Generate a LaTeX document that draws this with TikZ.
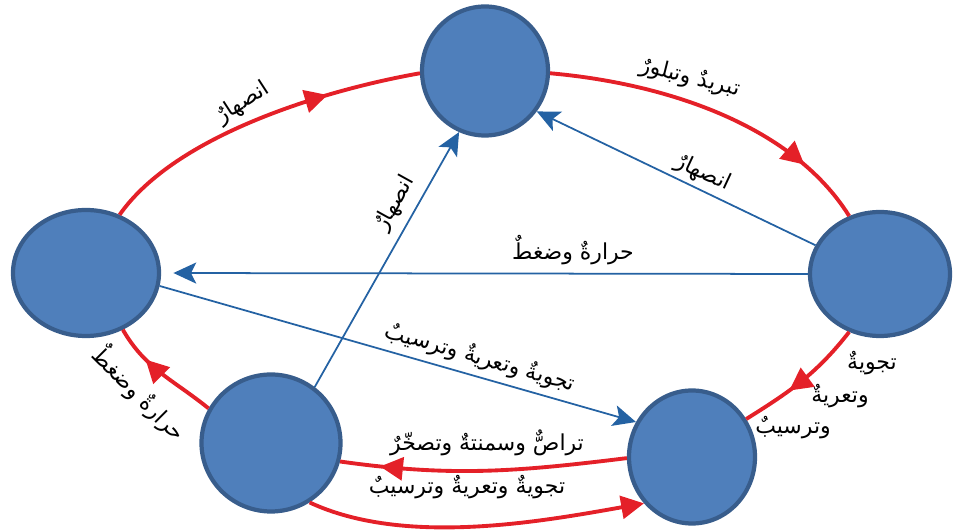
\documentclass[tikz,border=0pt]{standalone}
\usepackage{fontspec}
\usepackage{tikz}
\usetikzlibrary{arrows.meta,decorations.markings,shapes.geometric}
\newfontfamily\arabicfont[Script=Arabic]{DejaVu Sans}
\TeXXeTstate=1
\definecolor{rockblue}{RGB}{79,127,187}
\definecolor{rockedge}{RGB}{56,93,140}
\definecolor{cyclered}{RGB}{228,32,40}
\definecolor{pathblue}{RGB}{36,98,163}

\tikzset{
  rock/.style={ellipse, draw=rockedge, line width=2.4pt, fill=rockblue, inner sep=0pt},
  redarc/.style={draw=cyclered, line width=2.2pt},
  midtip/.style={postaction={decorate}, decoration={markings, mark=at position #1 with {\arrow{Triangle[length=13pt,width=13pt]}}}},
  bluearrow/.style={draw=pathblue, line width=1pt, -{Stealth[length=13pt,width=12pt,inset=3pt]}},
  lbl/.style={font=\fontsize{12.5}{14}\arabicfont, inner sep=1pt}
}

\begin{document}
\begin{tikzpicture}

\useasboundingbox (0cm,0cm) rectangle (19.1cm,10.6cm);

\node [rock, minimum width=2.52cm, minimum height=2.58cm] (magma) at (9.70cm,9.18cm) {};
\node [rock, minimum width=2.92cm, minimum height=2.52cm] (metamorphic) at (1.72cm,5.14cm) {};
\node [rock, minimum width=2.80cm, minimum height=2.48cm] (igneous) at (17.60cm,5.12cm) {};
\node [rock, minimum width=2.78cm, minimum height=2.74cm] (sedrock) at (5.42cm,1.74cm) {};
\node [rock, minimum width=2.52cm, minimum height=2.66cm] (sediment) at (13.84cm,1.46cm) {};


\draw [redarc, midtip=0.72] (metamorphic.60) to[out=55,in=190,looseness=0.75] (magma.182);
\draw [redarc, midtip=0.8] (magma.-2) to[out=-5,in=122,looseness=0.85] (igneous.118);
\draw [redarc, midtip=0.62] (igneous.242) to[out=232,in=32] (sediment.35);
\draw [redarc, midtip=0.86] (sediment.181) to[out=187,in=-8] (sedrock.-15);
\draw [redarc, -{Triangle[length=13pt,width=13pt]}] (sedrock.-57) to[out=-25,in=190,looseness=0.8] (sediment.224);
\draw [redarc, midtip=0.68] (sedrock.151) to[out=141,in=-60] (metamorphic.-57);


\draw [bluearrow] (igneous.156) -- (magma.-38);
\draw [bluearrow, shorten >=7pt] (igneous.west) -- (metamorphic.east);
\draw [bluearrow] (metamorphic.-10) -- (sediment.148);
\draw [bluearrow] (sedrock.52) -- (magma.247);


\node [lbl, rotate=33] (meltLeft) at (4.86cm,8.54cm) {\beginR انصهارٌ\endR};
\node [lbl, rotate=-14] (cooling) at (13.80cm,9.04cm) {\beginR تبريدٌ وتبلورٌ\endR};
\node [lbl] (weatherA) at (17.44cm,3.34cm) {\beginR تجويةٌ\endR};
\node [lbl] (weatherB) at (16.80cm,2.68cm) {\beginR وتعريةٌ\endR};
\node [lbl] (weatherC) at (15.86cm,2.04cm) {\beginR وترسيبٌ\endR};
\node [lbl] (compaction) at (9.74cm,1.74cm) {\beginR تراصٌّ وسمنتةٌ وتصخّرٌ\endR};
\node [lbl] (weatherLow) at (9.34cm,0.86cm) {\beginR تجويةٌ وتعريةٌ وترسيبٌ\endR};
\node [lbl, rotate=-45] (heatLeft) at (2.80cm,2.74cm) {\beginR حرارةٌ وضغطٌ\endR};

\node [lbl, rotate=-25] (meltRight) at (14.06cm,7.14cm) {\beginR انصهارٌ\endR};
\node [lbl] (heatMid) at (11.46cm,5.60cm) {\beginR حرارةٌ وضغطٌ\endR};
\node [lbl, rotate=-16] (weatherMid) at (9.60cm,3.44cm) {\beginR تجويةٌ وتعريةٌ وترسيبٌ\endR};
\node [lbl, rotate=61] (meltMid) at (7.90cm,6.54cm) {\beginR انصهارٌ\endR};

\end{tikzpicture}
\end{document}
